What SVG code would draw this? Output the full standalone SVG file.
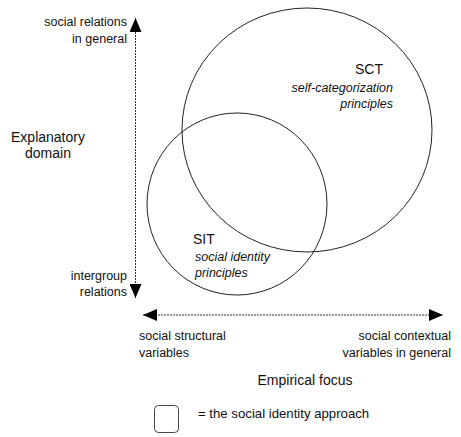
<svg xmlns="http://www.w3.org/2000/svg" width="461" height="437" viewBox="0 0 461 437">
<defs>
<style>
text{font-family:"Liberation Sans",Arial,sans-serif;fill:#111;}
.s{font-size:12.5px;}
.l{font-size:14px;}
.it{font-style:italic;font-size:12.5px;}
.r{text-anchor:end;}
.c{text-anchor:middle;}
.circ{fill:none;stroke:#222;stroke-width:1;}
.axis{stroke:#333;stroke-width:1;stroke-dasharray:2 1;fill:none;}
</style>
<marker id="ah" viewBox="0 0 14 12" refX="14" refY="6" markerWidth="14" markerHeight="12" markerUnits="userSpaceOnUse" orient="auto-start-reverse">
<path d="M0,0 L14,6 L0,12 Z" fill="#000"/>
</marker>
</defs>
<rect width="461" height="437" fill="#fff"/>
<g id="connectors">
<line class="axis" x1="135.5" y1="298" x2="135.5" y2="18" marker-start="url(#ah)" marker-end="url(#ah)"/>
<line class="axis" x1="143" y1="315" x2="443" y2="315" marker-start="url(#ah)" marker-end="url(#ah)"/>
</g>
<g id="SCT">
<ellipse class="circ" cx="307" cy="130" rx="125" ry="122"/>
<text class="l" x="383" y="74" text-anchor="end">SCT</text>
<text class="it r" x="393" y="92">self-categorization</text>
<text class="it r" x="393" y="108">principles</text>
</g>
<g id="SIT">
<ellipse class="circ" cx="237" cy="204" rx="90" ry="91"/>
<text class="l" x="193" y="244">SIT</text>
<text class="it" x="195" y="261">social identity</text>
<text class="it" x="195" y="277">principles</text>
</g>
<g id="labels">
<text class="s r" x="127" y="26">social relations</text>
<text class="s r" x="127" y="43">in general</text>
<text class="l c" x="48" y="142">Explanatory</text>
<text class="l c" x="48" y="158">domain</text>
<text class="s r" x="127" y="280">intergroup</text>
<text class="s r" x="127" y="296">relations</text>
<text class="s" x="139" y="340">social structural</text>
<text class="s" x="139" y="357">variables</text>
<text class="s r" x="451" y="340">social contextual</text>
<text class="s r" x="451" y="357">variables in general</text>
<text class="l c" x="305" y="385">Empirical focus</text>
</g>
<g id="legend">
<rect x="154.5" y="405.5" width="24" height="27" rx="4" fill="none" stroke="#444" stroke-width="1"/>
<text x="198" y="418" style="font-size:13.2px">= the social identity approach</text>
</g>
</svg>
